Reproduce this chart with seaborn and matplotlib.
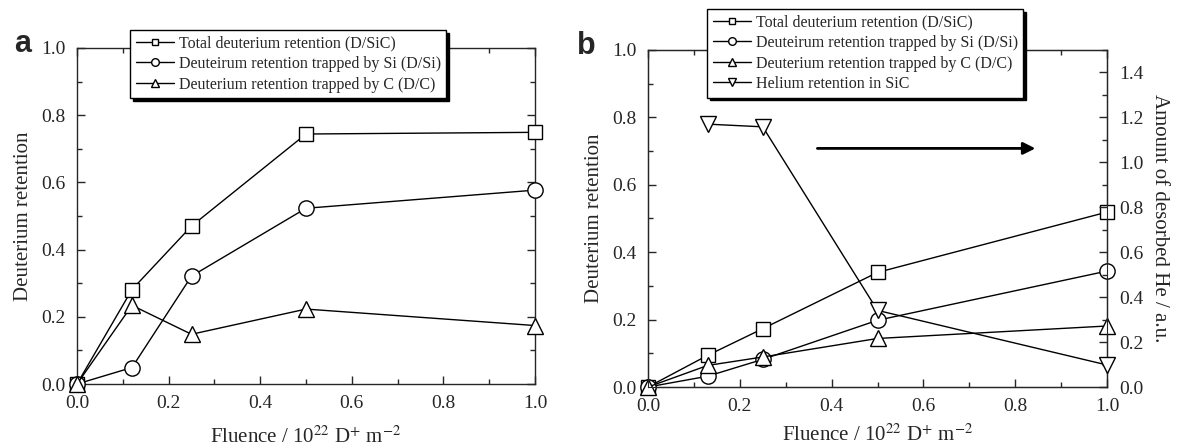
import numpy as np
import pandas as pd
import matplotlib
matplotlib.use("Agg")
import matplotlib.pyplot as plt
from matplotlib.ticker import MultipleLocator
import seaborn as sns

# panel a data
fluence_a = [0.0, 0.12, 0.25, 0.5, 1.0]
total_a = [0.0, 0.281, 0.470, 0.744, 0.749]
si_a = [0.0, 0.049, 0.321, 0.523, 0.577]
c_a = [0.0, 0.234, 0.148, 0.223, 0.174]

# panel b data
fluence_b = [0.0, 0.13, 0.25, 0.5, 1.0]
total_b = [0.0, 0.094, 0.173, 0.340, 0.519]
si_b = [0.0, 0.032, 0.082, 0.198, 0.344]
c_b = [0.0, 0.064, 0.089, 0.144, 0.181]
# helium (right axis), no point at zero fluence
fluence_he = [0.13, 0.25, 0.5, 1.0]
helium_b = [1.17, 1.158, 0.341, 0.098]

labels = ["Total deuterium retention (D/SiC)",
          "Deuteirum retention trapped by Si (D/Si)",
          "Deuterium retention trapped by C (D/C)",
          "Helium retention in SiC"]
markers = ["s", "o", "^", "v"]
sizes = [10, 11, 12, 12]

sns.set_style("ticks")
plt.rcParams['font.family'] = ['Liberation Serif', 'DejaVu Serif']
plt.rcParams['mathtext.fontset'] = 'stix'
plt.rcParams['xtick.direction'] = 'in'
plt.rcParams['ytick.direction'] = 'in'

W, H = 1177, 448
fig = plt.figure(figsize=(W / 100, H / 100), dpi=100)
ax_a = fig.add_axes([77/W, 64/H, 458/W, 336/H])
ax_b = fig.add_axes([648/W, 61/H, 459/W, 337/H])


def draw_series(ax, x, y, i):
	df = pd.DataFrame({'x': x, 'y': y})
	sns.lineplot(data=df, x='x', y='y', ax=ax, color='black', lw=1.0,
				 marker=markers[i], markersize=sizes[i], markerfacecolor='white',
				 markeredgecolor='black', markeredgewidth=1.0, label=labels[i],
				 legend=False, zorder=3, clip_on=False)


def set_ticks(ax, axis):
	loc = ax.xaxis if axis == 'x' else ax.yaxis
	loc.set_major_locator(MultipleLocator(0.2))
	loc.set_minor_locator(MultipleLocator(0.1))


def style_axis(ax, xpad):
	ax.set_xlim(0, 1.0)
	ax.set_ylim(0, 1.0)
	set_ticks(ax, 'x')
	set_ticks(ax, 'y')
	ax.tick_params(which='both', top=True, labelsize=14, width=1.0)
	ax.tick_params(which='major', length=6, pad=8)
	ax.tick_params(which='minor', length=3.5)
	ax.set_xlabel(r'Fluence / 10$^{22}$ D$^{+}$ m$^{-2}$', fontsize=15, labelpad=xpad)
	ax.set_ylabel('Deuterium retention', fontsize=15, labelpad=6)
	for s in ax.spines.values():
		s.set_linewidth(1.0)


def add_legend(ax, handles, names, x0, y0):
	leg = ax.legend(handles, names, loc='upper left', bbox_to_anchor=(x0/W, 1 - y0/H),
					bbox_transform=fig.transFigure, fontsize=11.5, frameon=True,
					fancybox=False, edgecolor='black', framealpha=1, markerscale=0.5,
					handlelength=2.4, handletextpad=0.3, labelspacing=0.28,
					borderpad=0.35, borderaxespad=0,
					shadow={'color': 'black', 'alpha': 1})
	leg.get_frame().set_linewidth(1.0)
	leg.set_zorder(10)
	return leg


# panel a
for i, y in enumerate([total_a, si_a, c_a]):
	draw_series(ax_a, fluence_a, y, i)
style_axis(ax_a, 10)
ax_a.tick_params(which='both', right=True)
h, l = ax_a.get_legend_handles_labels()
add_legend(ax_a, h, l, 130, 30)
fig.text(23/W, 1 - 44/H, 'a', fontsize=22, fontweight='bold',
		 family='Liberation Sans', ha='center', va='center')

# panel b
for i, y in enumerate([total_b, si_b, c_b]):
	draw_series(ax_b, fluence_b, y, i)
style_axis(ax_b, 7)
ax_r = ax_b.twinx()
draw_series(ax_r, fluence_he, helium_b, 3)
ax_r.set_ylim(0, 1.5)
set_ticks(ax_r, 'y')
ax_r.tick_params(which='both', labelsize=14, width=1.0)
ax_r.tick_params(which='major', length=6, pad=9)
ax_r.tick_params(which='minor', length=3.5)
ax_r.set_ylabel('Amount of desorbed He / a.u.', fontsize=15, rotation=270, labelpad=18)
ax_b.set_xlim(0, 1.0)
ax_r.annotate('', xy=(0.85, 0.708), xytext=(0.363, 0.708), xycoords=ax_b.transData,
			  arrowprops=dict(arrowstyle='-|>', color='black', lw=2.0,
							  mutation_scale=18))
h1, l1 = ax_b.get_legend_handles_labels()
h2, l2 = ax_r.get_legend_handles_labels()
add_legend(ax_r, h1 + h2, l1 + l2, 707, 9)
fig.text(586/W, 1 - 46/H, 'b', fontsize=22, fontweight='bold',
		 family='Liberation Sans', ha='center', va='center')

fig.savefig("out.png", dpi=100)
